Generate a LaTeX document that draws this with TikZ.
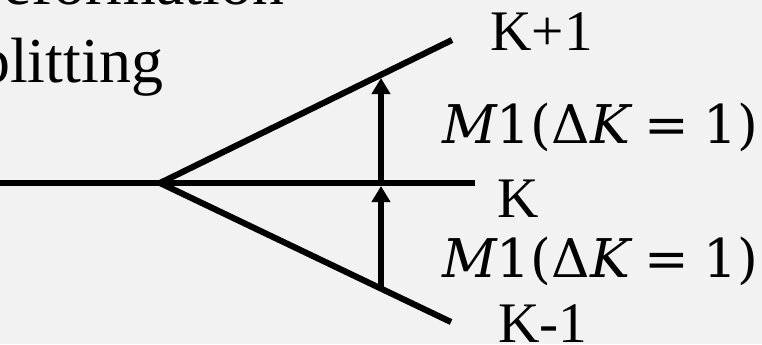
\documentclass[tikz,border=0pt]{standalone}
\usepackage{fontspec}
\setmainfont{Liberation Serif}
\newfontfamily\tmsfont{Liberation Serif}
\newfontfamily\mathlike{DejaVu Serif}
\usetikzlibrary{arrows.meta}
\definecolor{bgc}{HTML}{F2F2F2}
\tikzset{
  lvl/.style={line width=4.6pt, line cap=butt},
  trans/.style={line width=4.6pt, -{Triangle[width=13.5pt,length=12pt]}},
  bigtxt/.style={inner sep=0pt, anchor=base west, font=\tmsfont\fontsize{48}{58}\selectfont},
  klab/.style={inner sep=0pt, anchor=base west, font=\tmsfont\fontsize{43}{50}\selectfont},
  mlab/.style={inner sep=0pt, anchor=base west, font=\mathlike\fontsize{40}{48}\selectfont}
}
\newcommand{\mone}{{\itshape M}1(Δ{\itshape K}\hspace{0.27em}=\hspace{0.27em}1)}
\begin{document}
\begin{tikzpicture}[x=0.75pt,y=-0.75pt]
\useasboundingbox (0,0) rectangle (762,344);
\clip (0,0) rectangle (762,344);
\fill[bgc] (0,0) rectangle (762,344);
% text on the left
\node[bigtxt] (t1) at (-43,4) {Deformation};
\node[bigtxt] (t2) at (-47,82) {splitting};
% level scheme
\coordinate (H0) at (-5,183);
\coordinate (S) at (160,183);
\coordinate (H1) at (475,183);
\coordinate (U) at (452,40);
\coordinate (L) at (451,322);
\draw[lvl] (H0) -- (H1);
\draw[lvl] (S) -- (U);
\draw[lvl] (S) -- (L);
\coordinate (AU) at (381,78);
\coordinate (AM) at (381,183);
\coordinate (AMt) at (381,186);
\coordinate (AL) at (381,288.5);
\draw[trans] (AL) -- (AMt);
\draw[trans] (AM) -- (AU);
% labels
\node[klab] (kp) at (490,50) {K+1};
\node[mlab] (m1) at (442,143) {\mone};
\node[klab] (k0) at (497,217) {K};
\node[mlab] (m2) at (442,277) {\mone};
\node[klab] (km) at (498,342) {K-1};
\end{tikzpicture}
\end{document}
